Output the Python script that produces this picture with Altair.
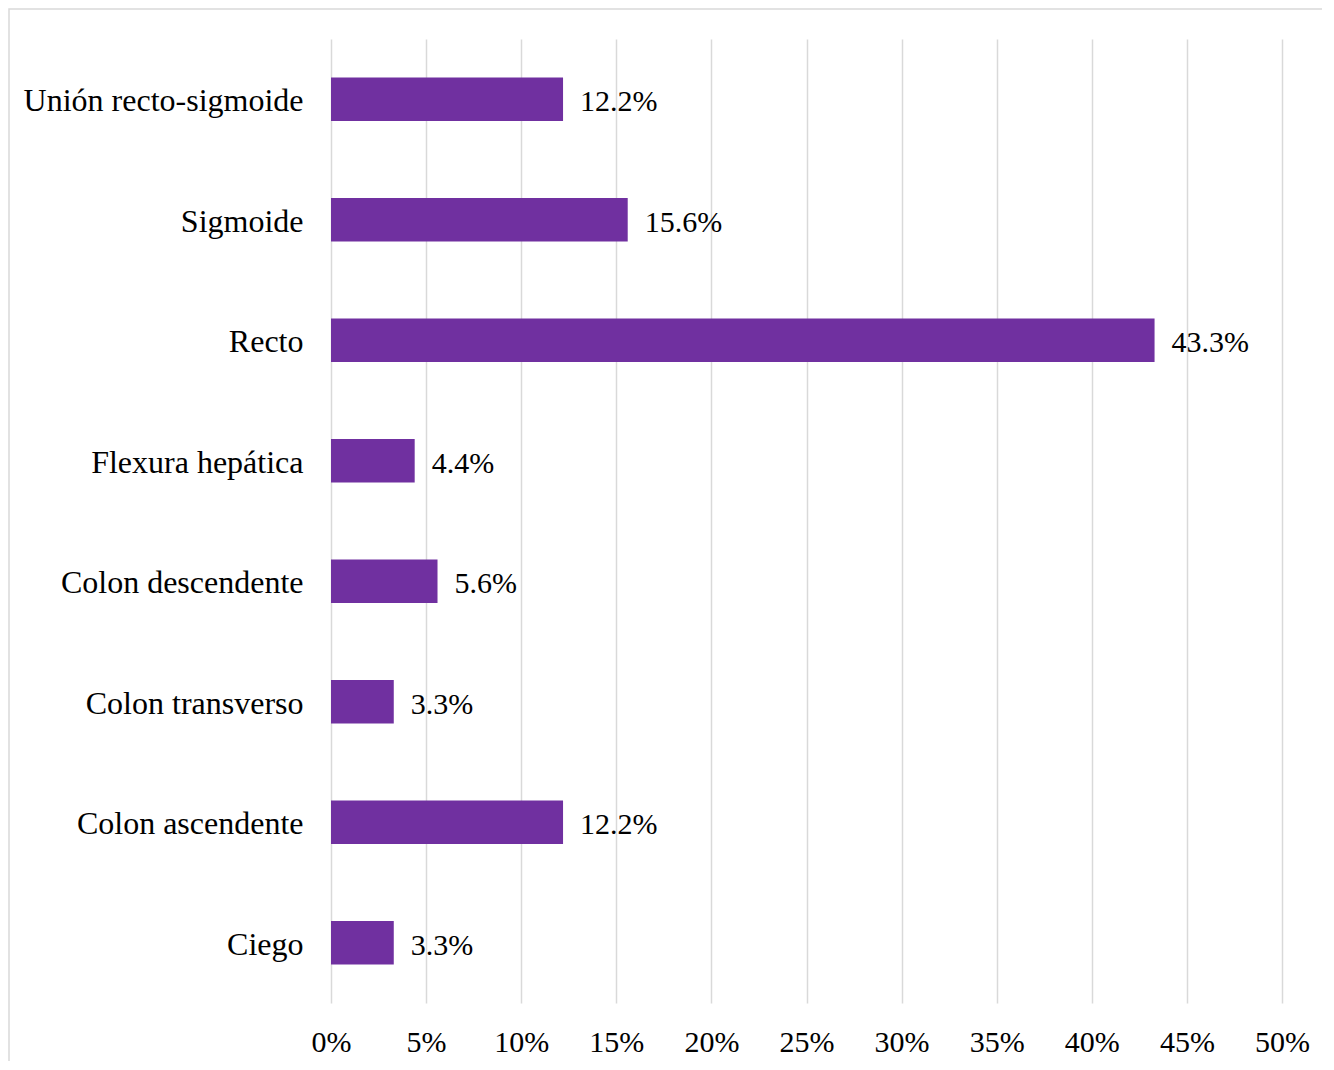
import altair as alt
import pandas as pd

categories = ["Unión recto-sigmoide", "Sigmoide", "Recto", "Flexura hepática",
              "Colon descendente", "Colon transverso", "Colon ascendente", "Ciego"]
values = [12.2, 15.6, 43.3, 4.4, 5.6, 3.3, 12.2, 3.3]
tick_values = [0, 5, 10, 15, 20, 25, 30, 35, 40, 45, 50]

df = pd.DataFrame({"cat": categories, "val": values})
df["label"] = [f"{v:.1f}%" for v in values]

FONT = "Liberation Serif"
PURPLE = "#7030A0"

y_enc = alt.Y("cat:N", sort=categories, title=None,
              scale=alt.Scale(paddingInner=0.64, paddingOuter=0.32),
              axis=alt.Axis(labelFont=FONT, labelFontSize=32, labelColor="#000000",
                            labelPadding=28, labelOffset=2, domain=False, ticks=False,
                            grid=False, labelLimit=400))
x_enc = alt.X("val:Q", title=None,
              scale=alt.Scale(domain=[0, 50], nice=False),
              axis=alt.Axis(values=tick_values, labelExpr="datum.value + '%'",
                            labelFont=FONT, labelFontSize=30, labelColor="#000000",
                            labelPadding=24, labelFlush=False, labelOverlap=False,
                            domain=False, ticks=False,
                            grid=True, gridColor="#d9d9d9", gridWidth=1.5))

bars = alt.Chart(df).mark_bar(color=PURPLE).encode(y=y_enc, x=x_enc)
text = alt.Chart(df).mark_text(align="left", baseline="middle", dx=17, dy=3,
                               font=FONT, fontSize=30, color="#000000").encode(
    y=alt.Y("cat:N", sort=categories), x="val:Q", text="label:N")

border = alt.Chart(alt.Data(values=[{}])).mark_rect(
    fill=None, stroke="#d9d9d9", strokeWidth=1.5).encode(
    x=alt.value(-322), x2=alt.value(1020), y=alt.value(-30), y2=alt.value(1060))

chart = alt.layer(border, bars, text).properties(
    width=951, height=964,
    autosize=alt.AutoSizeParams(type="none"),
    padding={"left": 323, "top": 31, "right": 40, "bottom": 58},
    background="white",
).configure_view(stroke=None)

chart.save("out.html", embed_options={"renderer": "svg", "actions": False})
